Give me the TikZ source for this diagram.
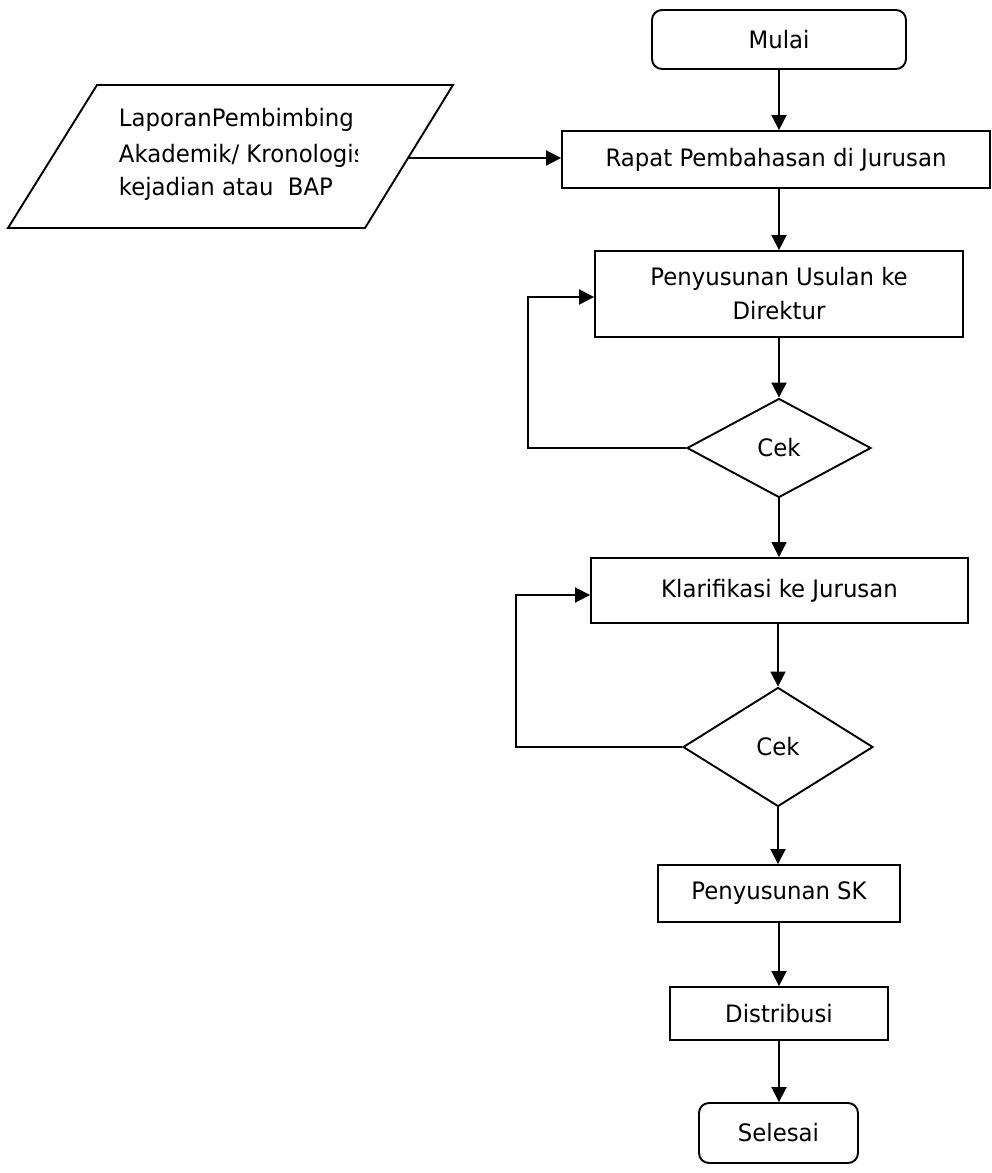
\documentclass[tikz,border=0pt]{standalone}
\usepackage{fontspec}
\setmainfont[FakeStretch=0.95]{DejaVu Sans}
\usetikzlibrary{arrows.meta,shapes.geometric}
\begin{document}
\begin{tikzpicture}[x=1pt,y=-1pt,
  line width=1.9pt,
  font=\fontsize{24}{34}\selectfont,
  proc/.style={draw, rectangle, inner sep=0pt, align=center},
  term/.style={draw, rectangle, rounded corners=10pt, inner sep=0pt},
  dec/.style={draw, diamond, inner sep=0pt},
  flow/.style={-{Triangle[length=15pt,width=15pt]}}]
\useasboundingbox (0,0) rectangle (992,1173);

% input document (parallelogram)
\draw (97,85) -- (453,85) -- (365,228) -- (8,228) -- cycle;
\coordinate (lapout) at (408,158);
\begin{scope}
  \clip (0,80) rectangle (357,235);
  \node[anchor=base west, inner sep=0pt] (lap1) at (118,126) {LaporanPembimbing};
  \node[anchor=base west, inner sep=0pt] (lap2) at (118,162) {Akademik/ Kronologis};
  \node[anchor=base west, inner sep=0pt] (lap3) at (118,195) {kejadian atau\ \ BAP};
\end{scope}

% main flow
\node[term, minimum width=254pt, minimum height=59pt] (mulai) at (779,39.5) {Mulai};
\node[proc, minimum width=428pt, minimum height=57pt] (rapat) at (776,159.5) {Rapat Pembahasan di Jurusan};
\node[proc, minimum width=368pt, minimum height=86pt] (usulan) at (779,294) {Penyusunan Usulan ke\\Direktur};
\node[dec, minimum width=184pt, minimum height=99pt] (cek1) at (779,448) {Cek};
\node[proc, minimum width=377pt, minimum height=65pt] (klar) at (779.5,590.5) {Klarifikasi ke Jurusan};
\node[dec, minimum width=190pt, minimum height=119pt] (cek2) at (778,747) {Cek};
\node[proc, minimum width=242pt, minimum height=57pt] (sk) at (779,893.5) {Penyusunan SK};
\node[proc, minimum width=218pt, minimum height=53pt] (dist) at (779,1013.5) {Distribusi};
\node[term, minimum width=159pt, minimum height=60pt] (selesai) at (778.5,1133) {Selesai};

% connectors
\draw[flow] (lapout) -- (lapout -| rapat.west);
\draw[flow] (mulai.south) -- (mulai.south |- rapat.north);
\draw[flow] (rapat.south -| usulan.south) -- (usulan.north);
\draw[flow] (usulan.south) -- (usulan.south |- cek1.north);
\draw[flow] (cek1.south) -- (cek1.south |- klar.north);
\draw[flow] (cek2.north |- klar.south) -- (cek2.north);
\draw[flow] (cek2.south) -- (cek2.south |- sk.north);
\draw[flow] (sk.south) -- (sk.south |- dist.north);
\draw[flow] (dist.south) -- (dist.south |- selesai.north);

% feedback loops
\coordinate (loop1) at (528,297);
\coordinate (loop2) at (516,595);
\draw[flow] (cek1.west) -- (cek1.west -| loop1) -- (loop1) -- (loop1 -| usulan.west);
\draw[flow] (cek2.west) -- (cek2.west -| loop2) -- (loop2) -- (loop2 -| klar.west);
\end{tikzpicture}
\end{document}
